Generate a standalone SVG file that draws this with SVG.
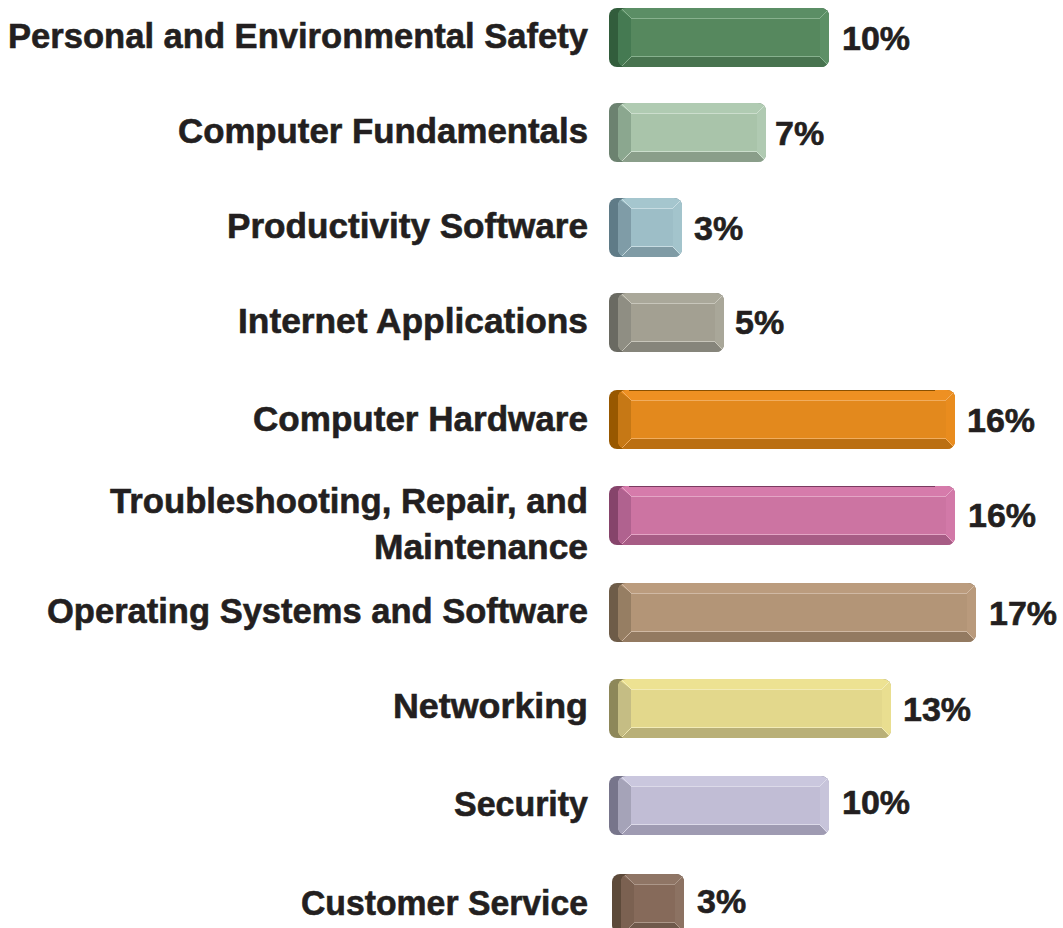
<svg xmlns="http://www.w3.org/2000/svg" width="1063" height="928" viewBox="0 0 1063 928">
<style>
.lbl{font-family:"Liberation Sans",Arial,sans-serif;font-weight:bold;font-size:35.5px;fill:#231f20;stroke:#231f20;stroke-width:0.6px;text-anchor:end}
.pct{font-family:"Liberation Sans",Arial,sans-serif;font-weight:bold;font-size:34px;fill:#231f20;stroke:#231f20;stroke-width:0.6px}
.hl{fill:none;stroke-width:1;opacity:0.85}
</style>
<defs>
<clipPath id="w220"><rect x="9" width="211" height="59" rx="8"/></clipPath>
<clipPath id="w157"><rect x="9" width="148" height="59" rx="8"/></clipPath>
<clipPath id="w73"><rect x="9" width="64" height="59" rx="8"/></clipPath>
<clipPath id="w115"><rect x="9" width="106" height="59" rx="8"/></clipPath>
<clipPath id="w346"><rect x="9" width="337" height="59" rx="8"/></clipPath>
<clipPath id="w367"><rect x="9" width="358" height="59" rx="8"/></clipPath>
<clipPath id="w282"><rect x="9" width="273" height="59" rx="8"/></clipPath>
<clipPath id="w72"><rect x="9" width="63" height="59" rx="8"/></clipPath>
</defs>
<rect width="1063" height="928" fill="#ffffff"/>

<g id="bar-safety">
<g transform="translate(609,8)">
<rect width="220" height="59" rx="8" fill="#325d3c"/>
<g clip-path="url(#w220)">
<rect x="9" width="211" height="59" fill="#5b8e65"/>
<polygon points="9,59 220,59 211,49 22,49" fill="#48734f"/>
<polygon points="9,0 22,10 22,49 9,59" fill="#457a52"/>
<polygon points="220,0 211,10 211,49 220,59" fill="#5d9066"/>
<rect x="22" y="10" width="189" height="39" fill="#56885e"/>
<path class="hl" stroke="#8fb896" d="M22,10.5H211M22,48.5H211M22,10L13,1M211,10L219,2M22,49L13,58M211,49L219,57"/>
</g>
</g>
<text class="lbl" x="588" y="48" textLength="580" lengthAdjust="spacingAndGlyphs">Personal and Environmental Safety</text>
<text class="pct" x="842" y="50">10%</text>
</g>

<g id="bar-fundamentals">
<g transform="translate(609,103)">
<rect width="157" height="59" rx="8" fill="#6c8270"/>
<g clip-path="url(#w157)">
<rect x="9" width="148" height="59" fill="#b0cbb2"/>
<polygon points="9,59 157,59 148,49 22,49" fill="#8a9e8a"/>
<polygon points="9,0 22,10 22,49 9,59" fill="#8ba78f"/>
<polygon points="157,0 148,10 148,49 157,59" fill="#b0cab2"/>
<rect x="22" y="10" width="126" height="39" fill="#a9c4aa"/>
<path class="hl" stroke="#d2e3d3" d="M22,10.5H148M22,48.5H148M22,10L13,1M148,10L156,2M22,49L13,58M148,49L156,57"/>
</g>
</g>
<text class="lbl" x="588" y="143" textLength="410" lengthAdjust="spacingAndGlyphs">Computer Fundamentals</text>
<text class="pct" x="775" y="145">7%</text>
</g>

<g id="bar-productivity">
<g transform="translate(609,198)">
<rect width="73" height="59" rx="8" fill="#5f7b87"/>
<g clip-path="url(#w73)">
<rect x="9" width="64" height="59" fill="#a5c6ce"/>
<polygon points="9,59 73,59 64,49 22,49" fill="#7f9ba5"/>
<polygon points="9,0 22,10 22,49 9,59" fill="#7f9ca7"/>
<polygon points="73,0 64,10 64,49 73,59" fill="#a3c4cc"/>
<rect x="22" y="10" width="42" height="39" fill="#9dbec7"/>
<path class="hl" stroke="#cfe2e6" d="M22,10.5H64M22,48.5H64M22,10L13,1M64,10L72,2M22,49L13,58M64,49L72,57"/>
</g>
</g>
<text class="lbl" x="588" y="238" textLength="361" lengthAdjust="spacingAndGlyphs">Productivity Software</text>
<text class="pct" x="694" y="240">3%</text>
</g>

<g id="bar-internet">
<g transform="translate(609,293)">
<rect width="115" height="59" rx="8" fill="#6a6a62"/>
<g clip-path="url(#w115)">
<rect x="9" width="106" height="59" fill="#aaa89a"/>
<polygon points="9,59 115,59 106,49 22,49" fill="#86857b"/>
<polygon points="9,0 22,10 22,49 9,59" fill="#8f8e83"/>
<polygon points="115,0 106,10 106,49 115,59" fill="#a9a799"/>
<rect x="22" y="10" width="84" height="39" fill="#a3a092"/>
<path class="hl" stroke="#cfcdc2" d="M22,10.5H106M22,48.5H106M22,10L13,1M106,10L114,2M22,49L13,58M106,49L114,57"/>
</g>
</g>
<text class="lbl" x="588" y="333" textLength="350" lengthAdjust="spacingAndGlyphs">Internet Applications</text>
<text class="pct" x="735" y="334">5%</text>
</g>

<g id="bar-hardware">
<g transform="translate(609,390)">
<rect width="346" height="59" rx="8" fill="#985800"/>
<g clip-path="url(#w346)">
<rect x="9" width="337" height="59" fill="#ee9022"/>
<polygon points="9,59 346,59 337,49 22,49" fill="#bb6f12"/>
<polygon points="9,0 22,10 22,49 9,59" fill="#c67815"/>
<polygon points="346,0 337,10 337,49 346,59" fill="#e98c1e"/>
<rect x="22" y="10" width="315" height="39" fill="#e3891d"/>
<path class="hl" stroke="#f3b46a" d="M22,10.5H337M22,48.5H337M22,10L13,1M337,10L345,2M22,49L13,58M337,49L345,57"/>
<line x1="20" y1="0.5" x2="326" y2="0.5" stroke="#8a5000" stroke-width="1"/>
</g>
</g>
<text class="lbl" x="588" y="431" textLength="335" lengthAdjust="spacingAndGlyphs">Computer Hardware</text>
<text class="pct" x="967" y="432">16%</text>
</g>

<g id="bar-troubleshooting">
<g transform="translate(609,486)">
<rect width="346" height="59" rx="8" fill="#86446b"/>
<g clip-path="url(#w346)">
<rect x="9" width="337" height="59" fill="#d67bab"/>
<polygon points="9,59 346,59 337,49 22,49" fill="#a75c85"/>
<polygon points="9,0 22,10 22,49 9,59" fill="#b0628f"/>
<polygon points="346,0 337,10 337,49 346,59" fill="#d279a8"/>
<rect x="22" y="10" width="315" height="39" fill="#cc74a2"/>
<path class="hl" stroke="#e7aecb" d="M22,10.5H337M22,48.5H337M22,10L13,1M337,10L345,2M22,49L13,58M337,49L345,57"/>
<line x1="20" y1="0.5" x2="326" y2="0.5" stroke="#7a3a60" stroke-width="1"/>
</g>
</g>
<text class="lbl" x="588" y="513" textLength="478" lengthAdjust="spacingAndGlyphs">Troubleshooting, Repair, and</text>
<text class="lbl" x="588" y="559" textLength="214" lengthAdjust="spacingAndGlyphs">Maintenance</text>
<text class="pct" x="968" y="527">16%</text>
</g>

<g id="bar-os">
<g transform="translate(609,583)">
<rect width="367" height="59" rx="8" fill="#6e5c48"/>
<g clip-path="url(#w367)">
<rect x="9" width="358" height="59" fill="#bb9c7e"/>
<polygon points="9,59 367,59 358,49 22,49" fill="#937a61"/>
<polygon points="9,0 22,10 22,49 9,59" fill="#967e63"/>
<polygon points="367,0 358,10 358,49 367,59" fill="#b99a7c"/>
<rect x="22" y="10" width="336" height="39" fill="#b39577"/>
<path class="hl" stroke="#d5c0ab" d="M22,10.5H358M22,48.5H358M22,10L13,1M358,10L366,2M22,49L13,58M358,49L366,57"/>
</g>
</g>
<text class="lbl" x="588" y="623" textLength="541" lengthAdjust="spacingAndGlyphs">Operating Systems and Software</text>
<text class="pct" x="989" y="625">17%</text>
</g>

<g id="bar-networking">
<g transform="translate(609,679)">
<rect width="282" height="59" rx="8" fill="#8d8759"/>
<g clip-path="url(#w282)">
<rect x="9" width="273" height="59" fill="#ede292"/>
<polygon points="9,59 282,59 273,49 22,49" fill="#b9b078"/>
<polygon points="9,0 22,10 22,49 9,59" fill="#c5bd84"/>
<polygon points="282,0 273,10 273,49 282,59" fill="#e9de90"/>
<rect x="22" y="10" width="251" height="39" fill="#e3d88c"/>
<path class="hl" stroke="#f5eebe" d="M22,10.5H273M22,48.5H273M22,10L13,1M273,10L281,2M22,49L13,58M273,49L281,57"/>
</g>
</g>
<text class="lbl" x="588" y="718" textLength="195" lengthAdjust="spacingAndGlyphs">Networking</text>
<text class="pct" x="903" y="721">13%</text>
</g>

<g id="bar-security">
<g transform="translate(609,776)">
<rect width="220" height="59" rx="8" fill="#77758b"/>
<g clip-path="url(#w220)">
<rect x="9" width="211" height="59" fill="#cac7de"/>
<polygon points="9,59 220,59 211,49 22,49" fill="#9f9bb2"/>
<polygon points="9,0 22,10 22,49 9,59" fill="#a5a3b8"/>
<polygon points="220,0 211,10 211,49 220,59" fill="#c7c4da"/>
<rect x="22" y="10" width="189" height="39" fill="#c1bdd5"/>
<path class="hl" stroke="#e1dfec" d="M22,10.5H211M22,48.5H211M22,10L13,1M211,10L219,2M22,49L13,58M211,49L219,57"/>
</g>
</g>
<text class="lbl" x="588" y="816" textLength="134" lengthAdjust="spacingAndGlyphs">Security</text>
<text class="pct" x="842" y="814">10%</text>
</g>

<g id="bar-customer">
<g transform="translate(612,874)">
<rect width="72" height="59" rx="8" fill="#5d4a3a"/>
<g clip-path="url(#w72)">
<rect x="9" width="63" height="59" fill="#8f7565"/>
<polygon points="9,59 72,59 63,49 22,49" fill="#6f594b"/>
<polygon points="9,0 22,10 22,49 9,59" fill="#7b6151"/>
<polygon points="72,0 63,10 63,49 72,59" fill="#8c7262"/>
<rect x="22" y="10" width="41" height="39" fill="#866a5a"/>
<path class="hl" stroke="#b39f92" d="M22,10.5H63M22,48.5H63M22,10L13,1M63,10L71,2M22,49L13,58M63,49L71,57"/>
</g>
</g>
<text class="lbl" x="588" y="915" textLength="287" lengthAdjust="spacingAndGlyphs">Customer Service</text>
<text class="pct" x="697" y="913">3%</text>
</g>
</svg>
